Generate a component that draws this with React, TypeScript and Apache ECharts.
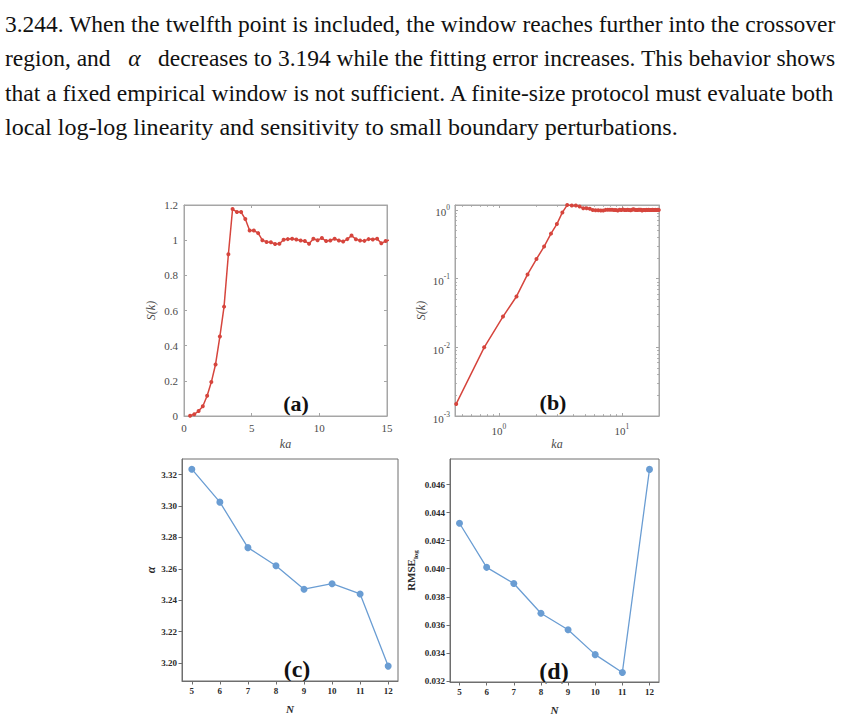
import React, { useEffect, useRef } from 'react';
import * as echarts from 'echarts';

// ---- paragraph above the figure ----
const paragraphLines = [
  '3.244. When the twelfth point is included, the window reaches further into the crossover',
  'region, and',
  'that a fixed empirical window is not sufficient. A finite-size protocol must evaluate both',
  'local log-log linearity and sensitivity to small boundary perturbations.',
];
const line2Tail = 'decreases to 3.194 while the fitting error increases. This behavior shows';

// ---- structure factor S(k) versus ka ----
const kaValues = [
  0.45, 0.76, 1.08, 1.39, 1.71, 2.02, 2.33, 2.65, 2.96, 3.28,
  3.59, 3.91, 4.22, 4.53, 4.85, 5.16, 5.48, 5.79, 6.10, 6.42,
  6.73, 7.05, 7.36, 7.67, 7.99, 8.30, 8.62, 8.93, 9.24, 9.56,
  9.87, 10.19, 10.50, 10.81, 11.13, 11.44, 11.76, 12.07, 12.38, 12.70,
  13.01, 13.33, 13.64, 13.95, 14.27, 14.58, 14.90, 15.21, 15.52, 15.84,
  16.15, 16.47, 16.78, 17.09, 17.41, 17.72, 18.04, 18.35, 18.66, 18.98,
  19.29, 19.61, 19.92,
];
const skValues = [
  0.0015, 0.010, 0.028, 0.055, 0.115, 0.193, 0.293, 0.452, 0.622, 0.920,
  1.177, 1.160, 1.160, 1.120, 1.055, 1.055, 1.040, 1.000, 0.990, 0.988,
  0.978, 0.980, 1.002, 1.006, 1.008, 1.004, 0.998, 0.995, 0.980, 1.008,
  1.000, 1.012, 0.995, 0.998, 1.008, 0.998, 0.992, 1.006, 1.026, 1.005,
  0.998, 0.996, 1.006, 1.004, 1.008, 0.982, 0.995, 1.000, 0.994, 1.002,
  0.998, 1.004, 0.996, 1.001, 0.997, 1.003, 0.995, 1.000, 1.002, 0.996,
  0.999, 1.003, 0.997,
];

// ---- fitting window scan ----
const windowN = [5, 6, 7, 8, 9, 10, 11, 12];
const alphaValues = [3.3235, 3.3025, 3.2735, 3.2620, 3.2470, 3.2505, 3.2440, 3.1980];
const rmseValues = [0.04324, 0.04010, 0.03895, 0.03683, 0.03565, 0.03388, 0.03261, 0.04708];

// ---- tick labels and minor ticks ----
const nTicks = [5, 6, 7, 8, 9, 10, 11, 12];
const alphaTicks = [3.20, 3.22, 3.24, 3.26, 3.28, 3.30, 3.32];
const rmseTicks = [0.032, 0.034, 0.036, 0.038, 0.040, 0.042, 0.044, 0.046];
const logMinorKa = [0.5, 0.6, 0.7, 0.8, 0.9, 2, 3, 4, 5, 6, 7, 8, 9];
const logMinorS = [
  0.002, 0.003, 0.004, 0.005, 0.006, 0.007, 0.008, 0.009,
  0.02, 0.03, 0.04, 0.05, 0.06, 0.07, 0.08, 0.09,
  0.2, 0.3, 0.4, 0.5, 0.6, 0.7, 0.8, 0.9,
];

const SERIF = 'Liberation Serif, Times New Roman, serif';
const RED = '#d6453d';
const BLUE = '#6a9dd3';
const BOX_GREY = '#a6a6a6';
const LABEL_GREY = '#4a4a4a';
const DARK_SPINE = '#6e6e6e';
const TEXT_SIZE = 24;

const KA_RANGE: [number, number] = [0.44, 20];
const S_LOG_RANGE: [number, number] = [0.001, 1.18];

const measure = (text: string, font: string) => {
  const ctx = document.createElement('canvas').getContext('2d')!;
  ctx.font = font;
  return ctx.measureText(text).width;
};

const pairs = (xs: number[], ys: number[]) => xs.map((x, i) => [x, ys[i]]);

const powerLabel = (v: number) => {
  const e = Math.round(Math.log10(v));
  return `{b|10}{s|${e}}`;
};

const powerRich = {
  b: { fontFamily: SERIF, fontSize: 11, color: LABEL_GREY, lineHeight: 16, verticalAlign: 'bottom' },
  s: { fontFamily: SERIF, fontSize: 7.5, color: LABEL_GREY, lineHeight: 16, verticalAlign: 'bottom', padding: [0, 0, 6, 0] },
};

function matlabAxes(grid: number, kind: 'value' | 'log', range: [number, number], extra: any, isX: boolean) {
  const base: any = {
    type: kind,
    gridIndex: grid,
    position: isX ? 'bottom' : 'left',
    min: range[0],
    max: range[1],
    splitLine: { show: false },
    axisLine: { show: true, onZero: false, lineStyle: { color: BOX_GREY, width: 1 } },
    axisTick: { show: true, inside: true, length: 3, lineStyle: { color: BOX_GREY } },
    ...extra,
  };
  const mirror: any = {
    ...base,
    position: isX ? 'top' : 'right',
    name: '',
    axisLabel: { show: false },
  };
  return [base, mirror];
}

// short inward ticks at 2..9 x 10^k on the log panel, placed on a log10-valued helper axis
function minorLogAxis(grid: number, range: [number, number], values: number[], position: string) {
  return {
    type: 'value',
    gridIndex: grid,
    position,
    min: Math.log10(range[0]),
    max: Math.log10(range[1]),
    splitLine: { show: false },
    axisLine: { show: false, onZero: false },
    axisLabel: { show: false },
    axisTick: {
      show: true,
      inside: true,
      length: 1.8,
      customValues: values.map((v) => Math.log10(v)),
      lineStyle: { color: BOX_GREY },
    },
  };
}

function buildOption(): any {
  const font = `${TEXT_SIZE}px ${SERIF}`;
  const alphaGap = 9;
  const w1 = measure(paragraphLines[0], font);
  const w2 =
    measure(paragraphLines[1], font) +
    measure(line2Tail, font) +
    measure('α', `italic ${font}`) +
    4 * alphaGap;
  const w3 = measure(paragraphLines[2], font);
  const w4 = measure(paragraphLines[3], font);

  const textLeft = 5;
  const lineY = [24, 58, 92.5, 127];

  const paragraph = [
    { text: paragraphLines[0], w: w1, target: 831, y: lineY[0] },
    { text: `{n|${paragraphLines[1]}}{i|α}{n|${line2Tail}}`, w: w2, target: 831, y: lineY[1] },
    { text: paragraphLines[2], w: w3, target: 831, y: lineY[2] },
    { text: paragraphLines[3], w: w4, target: 673, y: lineY[3] },
  ].map((l) => ({
    type: 'text',
    x: textLeft,
    y: l.y,
    scaleX: l.target / l.w,
    style: {
      text: l.text,
      fontFamily: SERIF,
      fontSize: TEXT_SIZE,
      fill: '#111',
      textAlign: 'left',
      textVerticalAlign: 'middle',
      rich: {
        n: { fontFamily: SERIF, fontSize: TEXT_SIZE, fill: '#111' },
        i: {
          fontFamily: SERIF,
          fontSize: TEXT_SIZE,
          fontStyle: 'italic',
          fill: '#111',
          padding: [0, 2 * alphaGap, 0, 2 * alphaGap],
        },
      },
    },
  }));

  const panelTag = (t: string, x: number, y: number, size: number) => ({
    type: 'text',
    x,
    y,
    style: {
      text: t,
      fontFamily: SERIF,
      fontWeight: 'bold',
      fontSize: size,
      fill: '#111',
      textAlign: 'center',
      textVerticalAlign: 'middle',
    },
  });

  const serifLabel = { fontFamily: SERIF, fontSize: 11, color: LABEL_GREY, margin: 6 };
  const italicName = { fontFamily: SERIF, fontSize: 12, fontStyle: 'italic', color: LABEL_GREY };

  // panel (a)
  const [ax, axTop] = matlabAxes(0, 'value', [0, 15], {
    interval: 5,
    axisLabel: serifLabel,
    name: 'ka',
    nameLocation: 'middle',
    nameGap: 22,
    nameTextStyle: italicName,
  }, true);
  const [ay, ayRight] = matlabAxes(0, 'value', [0, 1.2], {
    interval: 0.2,
    axisLabel: serifLabel,
    name: 'S(k)',
    nameLocation: 'middle',
    nameGap: 27,
    nameTextStyle: italicName,
  }, false);

  // panel (b)
  const [bx, bxTop] = matlabAxes(1, 'log', KA_RANGE, {
    logBase: 10,
    axisLabel: {
      ...serifLabel,
      margin: 4,
      showMinLabel: false,
      showMaxLabel: false,
      formatter: powerLabel,
      rich: powerRich,
    },
    name: 'ka',
    nameLocation: 'middle',
    nameGap: 22,
    nameTextStyle: italicName,
  }, true);
  const [by, byRight] = matlabAxes(1, 'log', S_LOG_RANGE, {
    logBase: 10,
    axisLabel: {
      ...serifLabel,
      margin: 5,
      showMaxLabel: false,
      formatter: powerLabel,
      rich: powerRich,
    },
    name: 'S(k)',
    nameLocation: 'middle',
    nameGap: 28,
    nameTextStyle: italicName,
  }, false);

  const boldTick = { fontFamily: SERIF, fontSize: 9, fontWeight: 'bold', color: '#2b2b2b', margin: 5 };
  const pyAxisBase = (grid: number, isX: boolean, range: [number, number], ticks: number[], fmt: (v: number) => string, extra: any) => ({
    type: 'value',
    gridIndex: grid,
    position: isX ? 'bottom' : 'left',
    min: range[0],
    max: range[1],
    splitLine: { show: false },
    axisLine: { show: true, onZero: false, lineStyle: { color: DARK_SPINE, width: 1 } },
    axisTick: { show: true, inside: false, length: 3.5, customValues: ticks, lineStyle: { color: DARK_SPINE } },
    axisLabel: { ...boldTick, customValues: ticks, formatter: fmt },
    ...extra,
  });

  const nName = {
    name: 'N',
    nameLocation: 'middle',
    nameGap: 22,
    nameTextStyle: { fontFamily: SERIF, fontSize: 11, fontStyle: 'italic', fontWeight: 'bold', color: '#2b2b2b' },
  };

  const cx = pyAxisBase(2, true, [4.65, 12.35], nTicks, (v) => String(v), nName);
  const cy = pyAxisBase(2, false, [3.1885, 3.33], alphaTicks, (v) => v.toFixed(2), {
    name: 'α',
    nameLocation: 'middle',
    nameGap: 25,
    nameTextStyle: { fontFamily: SERIF, fontSize: 12, fontStyle: 'italic', fontWeight: 'bold', color: '#2b2b2b' },
  });
  const dx = pyAxisBase(3, true, [4.65, 12.35], nTicks, (v) => String(v), nName);
  const dy = pyAxisBase(3, false, [0.03193, 0.04782], rmseTicks, (v) => v.toFixed(3), {
    name: '{b|RMSE}{s|log}',
    nameLocation: 'middle',
    nameGap: 31,
    nameTextStyle: {
      rich: {
        b: { fontFamily: SERIF, fontSize: 11, fontWeight: 'bold', color: '#2b2b2b', lineHeight: 14, verticalAlign: 'bottom', padding: [0, 0, 3, 0] },
        s: { fontFamily: SERIF, fontSize: 7, fontWeight: 'bold', color: '#2b2b2b', lineHeight: 14, verticalAlign: 'bottom' },
      },
    },
  });

  const redLine = (xi: number, yi: number) => ({
    type: 'line',
    xAxisIndex: xi,
    yAxisIndex: yi,
    data: pairs(kaValues, skValues),
    symbol: 'circle',
    symbolSize: 4,
    showSymbol: true,
    clip: true,
    lineStyle: { color: RED, width: 1.5 },
    itemStyle: { color: RED },
    z: 3,
  });
  const blueLine = (xi: number, yi: number, ys: number[]) => ({
    type: 'line',
    xAxisIndex: xi,
    yAxisIndex: yi,
    data: pairs(windowN, ys),
    symbol: 'circle',
    symbolSize: 7,
    showSymbol: true,
    lineStyle: { color: BLUE, width: 1.3 },
    itemStyle: { color: BLUE },
    z: 3,
  });

  return {
    animation: false,
    backgroundColor: '#ffffff',
    grid: [
      { left: 184, top: 205, width: 203, height: 211, show: true, borderColor: BOX_GREY, borderWidth: 1 },
      { left: 455, top: 205, width: 204, height: 211, show: true, borderColor: BOX_GREY, borderWidth: 1 },
      { left: 182, top: 459, width: 216, height: 222, show: true, borderColor: DARK_SPINE, borderWidth: 1 },
      { left: 450, top: 459, width: 209, height: 223, show: true, borderColor: DARK_SPINE, borderWidth: 1 },
    ],
    xAxis: [
      ax, axTop, bx, bxTop, cx, dx,
      minorLogAxis(1, KA_RANGE, logMinorKa, 'bottom'),
      minorLogAxis(1, KA_RANGE, logMinorKa, 'top'),
    ],
    yAxis: [
      ay, ayRight, by, byRight, cy, dy,
      minorLogAxis(1, S_LOG_RANGE, logMinorS, 'left'),
      minorLogAxis(1, S_LOG_RANGE, logMinorS, 'right'),
    ],
    series: [
      redLine(0, 0),
      redLine(2, 2),
      blueLine(4, 4, alphaValues),
      blueLine(5, 5, rmseValues),
    ],
    graphic: [
      ...paragraph,
      panelTag('(a)', 296, 403, 22),
      panelTag('(b)', 553, 402, 22),
      panelTag('(c)', 297, 669, 24),
      panelTag('(d)', 554, 671, 24),
    ],
  };
}

export default function App() {
  const ref = useRef<HTMLDivElement>(null);
  useEffect(() => {
    if (!ref.current) return;
    const chart = echarts.init(ref.current, null, { renderer: 'svg' });
    chart.setOption(buildOption());
    return () => chart.dispose();
  }, []);
  return (
    <div
      ref={ref}
      style={{ position: 'absolute', left: 0, top: 0, width: 844, height: 716, background: '#fff' }}
    />
  );
}
